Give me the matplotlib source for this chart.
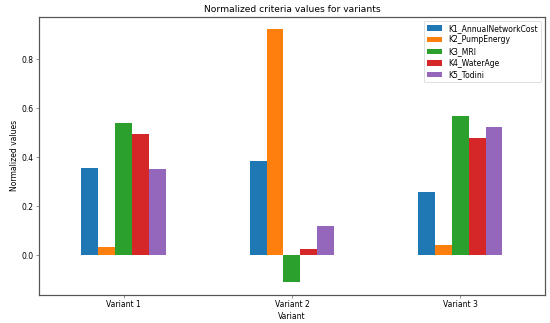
import matplotlib
matplotlib.use("Agg")
import matplotlib.pyplot as plt
import numpy as np

variants = ["Variant 1", "Variant 2", "Variant 3"]
criteria = ["K1_AnnualNetworkCost", "K2_PumpEnergy", "K3_MRI", "K4_WaterAge", "K5_Todini"]
k1 = [0.357, 0.384, 0.257]
k2 = [0.035, 0.922, 0.042]
k3 = [0.539, -0.108, 0.567]
k4 = [0.497, 0.027, 0.479]
k5 = [0.351, 0.121, 0.525]
series = [k1, k2, k3, k4, k5]
colors = ["#1f77b4", "#ff7f0e", "#2ca02c", "#d62728", "#9467bd"]

fig = plt.figure(figsize=(10, 5.873), dpi=55)
ax = fig.add_axes([0.0715, 0.088, 0.9185, 0.860])
x = np.arange(len(variants))
w = 0.1
for i, (name, vals) in enumerate(zip(criteria, series)):
    ax.bar(x + (i - 2) * w, vals, width=w, color=colors[i], label=name)
ax.set_xlim(-0.5, 2.5)
ax.set_xticks(x)
ax.set_xticklabels(variants)
ax.set_xlabel("Variant")
ax.set_ylabel("Normalized values")
ax.set_title("Normalized criteria values for variants")
for s in ax.spines.values():
    s.set_linewidth(1.6)
    s.set_color("#555555")
ax.tick_params(color="#555555")
ax.legend(loc="upper right", labelspacing=0.35)
fig.savefig("out.png", dpi=55)
